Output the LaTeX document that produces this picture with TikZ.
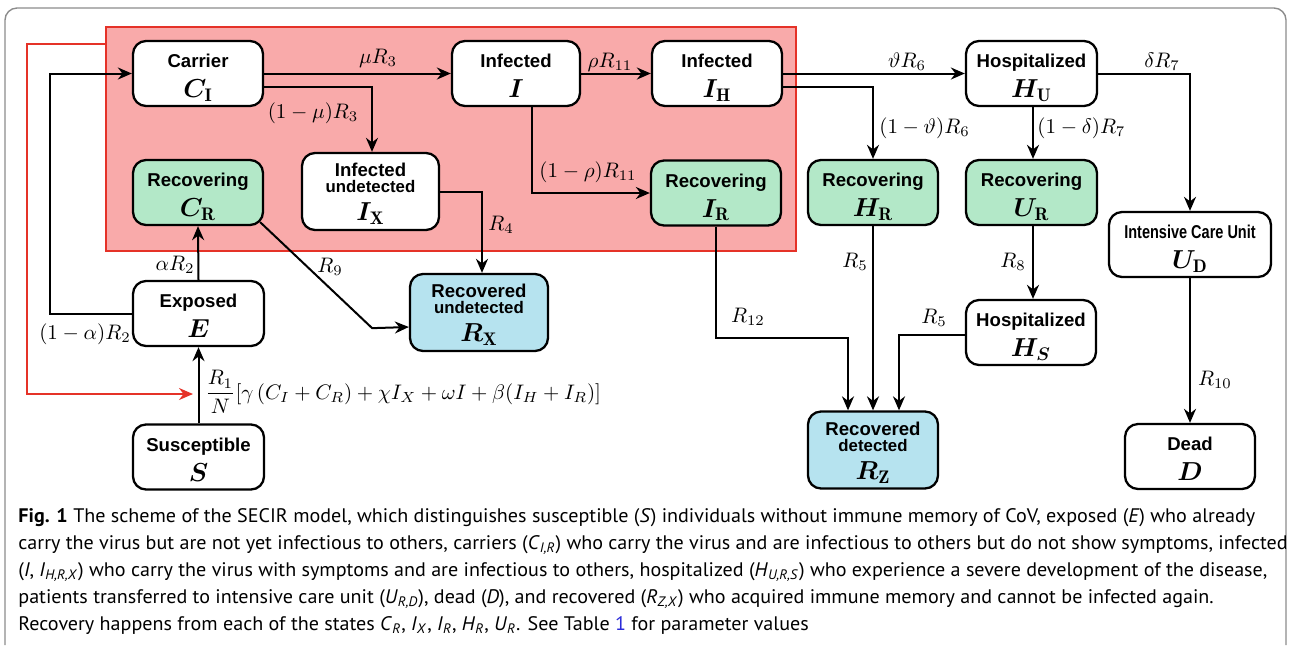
\documentclass[tikz,border=0pt]{standalone}
\usepackage{fix-cm}
\usepackage{fontspec}
\setsansfont{Liberation Sans}
\newfontfamily\SEcapfont[FakeStretch=1.025]{PT Sans}
\usepackage{bm}
\usepackage{graphicx}
\usetikzlibrary{arrows.meta}

\begin{document}
\begin{tikzpicture}[x=0.5pt, y=-0.5pt, >={Stealth[length=7pt,width=6pt]}]

  % ---- sizing knobs ----
  \pgfmathsetlengthmacro{\SEboxw}{65pt}    % standard box width
  \pgfmathsetlengthmacro{\SEboxh}{32.5pt}  % standard box height
  \pgfmathsetlengthmacro{\SEtallh}{38.5pt} % three-line box height
  \pgfmathsetlengthmacro{\SEsplit}{6.5pt}  % offset of a second exit line

  \definecolor{SEPool}{HTML}{F9AAAA}
  \definecolor{SEPoolLine}{HTML}{E53228}
  \definecolor{SEGreen}{HTML}{B3E8C8}
  \definecolor{SEBlue}{HTML}{B6E3EF}
  \definecolor{SEFrame}{gray}{0.55}
  \definecolor{SELink}{HTML}{2B2BD9}

  % ---- text helpers ----
  \newcommand{\SEsym}[1]{{\fontsize{13}{14}\selectfont$#1$}}
  \newcommand{\SEsmall}[1]{{\fontsize{8.4}{9}\selectfont #1}}

  \tikzset{
    compartment/.style={draw, line width=1.15pt, rounded corners=6.5pt, fill=white,
      align=center, inner sep=1pt, minimum width=\SEboxw, minimum height=\SEboxh,
      text height=26.5pt, text depth=2.5pt,
      font=\sffamily\bfseries\fontsize{9.3}{15}\selectfont},
    recovering/.style={compartment, fill=SEGreen},
    tallbox/.style={compartment, minimum height=\SEtallh, text height=31.7pt},
    recovered/.style={tallbox, fill=SEBlue},
    flow/.style={->, line width=1pt},
    infection/.style={->, line width=1pt, draw=SEPoolLine},
    rate/.style={inner sep=1pt, font=\fontsize{10.5}{12}\selectfont},
  }

  \useasboundingbox (0,0) rectangle (1289,645);

  % ---- page frame ----
  \draw[SEFrame, line width=0.7pt, rounded corners=6pt] (5,645) -- (5,8) -- (1286,8) -- (1286,645);

  % ---- infectious pool ----
  \draw[fill=SEPool, draw=SEPoolLine, line width=1pt] (106,27) rectangle (796,251);
  \coordinate (poolexit) at (106,44);
  \coordinate (redcorner) at (27,394);
  \coordinate (infect) at (193,394);

  % ---- top row ----
  \node[compartment] (CI) at (198,73.5) {Carrier\\\SEsym{\bm{C}_{\mathbf{I}}}};
  \node[compartment, minimum width=64pt] (I) at (516,73.5) {Infected\\\SEsym{\bm{I}}};
  \node[compartment] (IH) at (717,73.5) {Infected\\\SEsym{\bm{I}_{\mathbf{H}}}};
  \node[compartment, minimum width=65.5pt] (HU) at (1031.5,73.5) {Hospitalized\\\SEsym{\bm{H}_{\mathbf{U}}}};

  % ---- second row ----
  \node[recovering] (CR) at (198,192.5) {Recovering\\\SEsym{\bm{C}_{\mathbf{R}}}};
  \node[tallbox, minimum width=68.5pt] (IX) at (370.5,191.5)
    {Infected\\[-7pt]\SEsmall{undetected}\\[-1pt]\SEsym{\bm{I}_{\mathbf{X}}}};
  \node[recovering] (IR) at (716,193) {Recovering\\\SEsym{\bm{I}_{\mathbf{R}}}};
  \node[recovering] (HR) at (873,192.5) {Recovering\\\SEsym{\bm{H}_{\mathbf{R}}}};
  \node[recovering, minimum width=65.5pt] (UR) at (1031.5,192.5) {Recovering\\\SEsym{\bm{U}_{\mathbf{R}}}};
  \node[compartment, minimum width=81pt] (UD) at (1190,244.5)
    {\scalebox{0.78}[1]{Intensive Care Unit}\\\SEsym{\bm{U}_{\mathbf{D}}}};

  % ---- lower rows ----
  \node[compartment, minimum width=65.5pt] (E) at (198.5,313.5) {Exposed\\\SEsym{\bm{E}}};
  \node[recovered, minimum width=69pt] (RX) at (479,312.5)
    {Recovered\\[-7pt]\SEsmall{undetected}\\[-1pt]\SEsym{\bm{R}_{\mathbf{X}}}};
  \node[compartment] (HS) at (1031,332.5) {Hospitalized\\\SEsym{\bm{H}_{\bm{S}}}};
  \node[compartment, minimum width=65.5pt] (S) at (198.5,457) {Susceptible\\\SEsym{\bm{S}}};
  \node[recovered] (RZ) at (873,450)
    {Recovered\\[-7pt]\SEsmall{detected}\\[-1pt]\SEsym{\bm{R}_{\mathbf{Z}}}};
  \node[compartment] (D) at (1190,456.5) {Dead\\\SEsym{\bm{D}}};

  % ---- flows ----
  \draw[infection] (poolexit) -| (redcorner) -- (infect);
  \draw[flow] (S.north) -- (E.south);
  \draw[flow] (E.north) -- (CR.south);
  \draw[flow] (E.west) -- ([xshift=-41pt]E.west) |- (CI.west);
  \draw[flow] (CI.east) -- (I.west);
  \draw[flow] ([yshift=-\SEsplit]CI.east) -| ([xshift=0.75pt]IX.north);
  \draw[flow] (I.east) -- (IH.west);
  \draw[flow] ([xshift=8pt]I.south) |- (IR.west);
  \draw[flow] (IX.east) -| ([xshift=1.5pt]RX.north);
  \draw[flow] ([shift={(-2pt,2pt)}]CR.south east) -- ++(112,106) -- ([yshift=-7.25pt]RX.west);
  \draw[flow] (IH.east) -- (HU.west);
  \draw[flow] ([yshift=-\SEsplit]IH.east) -| (HR.north);
  \draw[flow] ([xshift=0.75pt]HU.south) -- ([xshift=0.75pt]UR.north);
  \draw[flow] (HU.east) -| (UD.north);
  \draw[flow] ([xshift=0.75pt]UR.south) -- ([xshift=1pt]HS.north);
  \draw[flow] (HR.south) -- (RZ.north);
  \draw[flow] (IR.south) -- ++(0,111) -| ([xshift=-12.5pt]RZ.north);
  \draw[flow] ([yshift=-1.25pt]HS.west) -| ([xshift=13pt]RZ.north);
  \draw[flow] (UD.south) -- (D.north);

  % ---- rates ----
  \node[rate] (lmu) at (378,58) {$\mu R_3$};
  \node[rate] (lnmu) at (313,113) {$(1-\mu)R_3$};
  \node[rate] (lrho) at (610,62) {$\rho R_{11}$};
  \node[rate] (lnrho) at (588,172) {$(1-\rho)R_{11}$};
  \node[rate] (lfour) at (501,225) {$R_4$};
  \node[rate] (lnine) at (330,267) {$R_9$};
  \node[rate] (lalpha) at (175,265) {$\alpha R_2$};
  \node[rate] (lnalpha) at (85,334) {$(1-\alpha)R_2$};
  \node[rate] (ltheta) at (907,62) {$\vartheta R_6$};
  \node[rate, anchor=west] (lntheta) at (877,128) {$(1-\vartheta)R_6$};
  \node[rate] (ldelta) at (1162,62) {$\delta R_7$};
  \node[rate, anchor=west] (lndelta) at (1035,128) {$(1-\delta)R_7$};
  \node[rate] (lfiveh) at (855,262) {$R_5$};
  \node[rate] (leight) at (1013,262) {$R_8$};
  \node[rate] (ltwelve) at (748,317) {$R_{12}$};
  \node[rate] (lfives) at (934,318) {$R_5$};
  \node[rate] (lten) at (1215,380) {$R_{10}$};
  \node[rate, anchor=west] (lforce) at (203,392)
    {$\displaystyle\frac{R_1}{N}[\gamma\,(C_I+C_R)+\chi I_X+\omega I+\beta(I_H+I_R)]$};

  % ---- caption ----
  \node[anchor=north west, align=left, inner sep=0pt,
    font=\SEcapfont\fontsize{9.8}{13.5}\selectfont] (caption) at (18,508) {%
    \textbf{Fig. 1} The scheme of the SECIR model, which distinguishes susceptible (\textit{S}) individuals without immune memory of CoV, exposed (\textit{E}) who already\\
    carry the virus but are not yet infectious to others, carriers (\textit{C}\textsubscript{\textit{I,R}}) who carry the virus and are infectious to others but do not show symptoms, infected\\
    (\textit{I}, \textit{I}\textsubscript{\textit{H,R,X}}) who carry the virus with symptoms and are infectious to others, hospitalized (\textit{H}\textsubscript{\textit{U,R,S}}) who experience a severe development of the disease,\\
    patients transferred to intensive care unit (\textit{U}\textsubscript{\textit{R,D}}), dead (\textit{D}), and recovered (\textit{R}\textsubscript{\textit{Z,X}}) who acquired immune memory and cannot be infected again.\\
    Recovery happens from each of the states \textit{C}\textsubscript{\textit{R}}, \textit{I}\textsubscript{\textit{X}}, \textit{I}\textsubscript{\textit{R}}, \textit{H}\textsubscript{\textit{R}}, \textit{U}\textsubscript{\textit{R}}. See Table \textcolor{SELink}{1} for parameter values};

\end{tikzpicture}
\end{document}
